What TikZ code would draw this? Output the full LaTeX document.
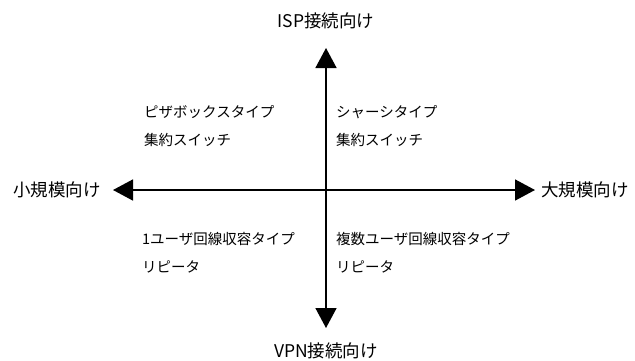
\documentclass[tikz,border=0pt]{standalone}
\usepackage{fontspec}
\setmainfont{Noto Sans CJK JP}
\usetikzlibrary{arrows.meta}
\tikzset{
  axisline/.style={line width=1.6pt, {Triangle[length=20pt,width=21pt]}-{Triangle[length=20pt,width=21pt]}},
  axislabel/.style={inner sep=0pt, font=\fontsize{17.5}{20}\selectfont},
  quadlabel/.style={inner sep=0pt, anchor=west, align=left, font=\fontsize{14.5}{28}\selectfont},
}
\begin{document}
\begin{tikzpicture}[x=1pt,y=-1pt]
\useasboundingbox (0,0) rectangle (635,360);
\coordinate (top) at (326,48);
\coordinate (bottom) at (326,328);
\coordinate (left) at (113,190);
\coordinate (right) at (535,190);
\draw[axisline] (bottom) -- (top);
\draw[axisline] (left) -- (right);
\node[axislabel] (isp) at (326,21) {ISP接続向け};
\node[axislabel] (vpn) at (326,351) {VPN接続向け};
\node[axislabel, anchor=east] (small) at (101,190) {小規模向け};
\node[axislabel, anchor=west] (large) at (541,190) {大規模向け};
\node[quadlabel] (q1) at (144,126) {ピザボックスタイプ\\集約スイッチ};
\node[quadlabel] (q2) at (336,126) {シャーシタイプ\\集約スイッチ};
\node[quadlabel] (q3) at (142,253) {1ユーザ回線収容タイプ\\リピータ};
\node[quadlabel] (q4) at (336,253) {複数ユーザ回線収容タイプ\\リピータ};
\end{tikzpicture}
\end{document}
